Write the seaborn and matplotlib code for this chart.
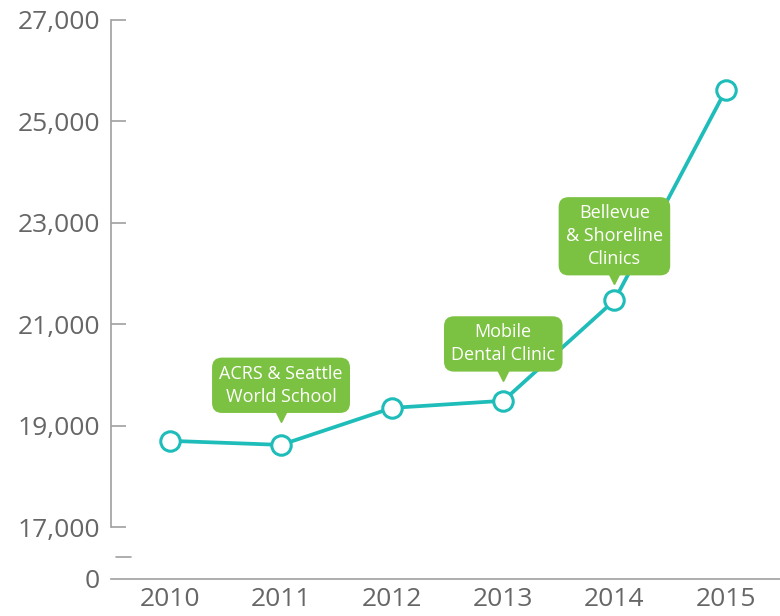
import matplotlib
matplotlib.use("Agg")
import matplotlib.pyplot as plt
import matplotlib.transforms as mtransforms
import seaborn as sns
import pandas as pd

# data
years = [2010, 2011, 2012, 2013, 2014, 2015]
patients = [18700, 18620, 19350, 19490, 21470, 25610]
ytick_values = [17000, 19000, 21000, 23000, 25000, 27000]
note_years = [2011, 2013, 2014]
note_texts = ["ACRS & Seattle\nWorld School", "Mobile\nDental Clinic", "Bellevue\n& Shoreline\nClinics"]
note_gaps = [23, 21, 18]  # points from the marker centre to the bottom of the box

df = pd.DataFrame({"Year": years, "Patients": patients})

teal = "#1fbdb9"
green = "#7cc242"
grey_text = "#666666"
grey_line = "#a0a0a0"

sns.set_style("white")
plt.rcParams["font.family"] = ["Open Sans", "DejaVu Sans"]

fig = plt.figure(figsize=(7.8, 6.16), dpi=100)
ax = fig.add_axes([111 / 780, 37 / 616, 669 / 780, 559 / 616])

# the axis is broken between 0 and 17,000; 0 sits at the bottom edge
y_zero = 15975
ax.set_ylim(y_zero, 27000)
ax.set_xlim(2009.47, 2015.49)

sns.lineplot(data=df, x="Year", y="Patients", ax=ax, color=teal, linewidth=2.7,
             marker="o", markersize=14, markerfacecolor="white",
             markeredgecolor=teal, markeredgewidth=2.2, clip_on=False, zorder=3)

ax.set_yticks([y_zero] + ytick_values)
ax.set_yticklabels(["0"] + [f"{v:,}" for v in ytick_values])
ax.set_xticks(years)
ax.set_xticklabels([str(y) for y in years])
ax.tick_params(axis="y", left=True, direction="in", length=11, width=1.2, color=grey_line,
               labelsize=19, labelcolor=grey_text, pad=8)
ax.tick_params(axis="x", bottom=False, length=0, labelsize=19, labelcolor=grey_text, pad=6)
ax.yaxis.get_major_ticks()[0].tick1line.set_visible(False)

for side in ["top", "right"]:
    ax.spines[side].set_visible(False)
ax.spines["left"].set_bounds(17000, 27000)
ax.spines["left"].set_color(grey_line)
ax.spines["left"].set_linewidth(1.2)
ax.spines["bottom"].set_color(grey_line)
ax.spines["bottom"].set_linewidth(1.2)
ax.set_xlabel("")
ax.set_ylabel("")

# small break mark between 0 and 17,000
brk = mtransforms.blended_transform_factory(ax.transAxes, ax.transData)
ax.plot([0.008, 0.03], [16400, 16400], transform=brk, color=grey_line,
        linewidth=1.2, clip_on=False)

# green callouts
fs = 13
pad = 0.4
for yr, txt, gap in zip(note_years, note_texts, note_gaps):
    val = patients[years.index(yr)]
    ax.annotate(txt, xy=(yr, val), xytext=(0, gap + pad * fs), textcoords="offset points",
                ha="center", va="bottom", fontsize=fs, color="white",
                linespacing=1.35,
                bbox=dict(boxstyle=f"round,pad={pad},rounding_size=0.55",
                          fc=green, ec="none"), zorder=4)
    tri = mtransforms.offset_copy(ax.transData, fig=fig, x=0, y=gap - 1.5, units="points")
    ax.plot([yr], [val], marker="v", markersize=10, color=green, transform=tri,
            clip_on=False, zorder=4)

fig.savefig("out.png", dpi=100)
